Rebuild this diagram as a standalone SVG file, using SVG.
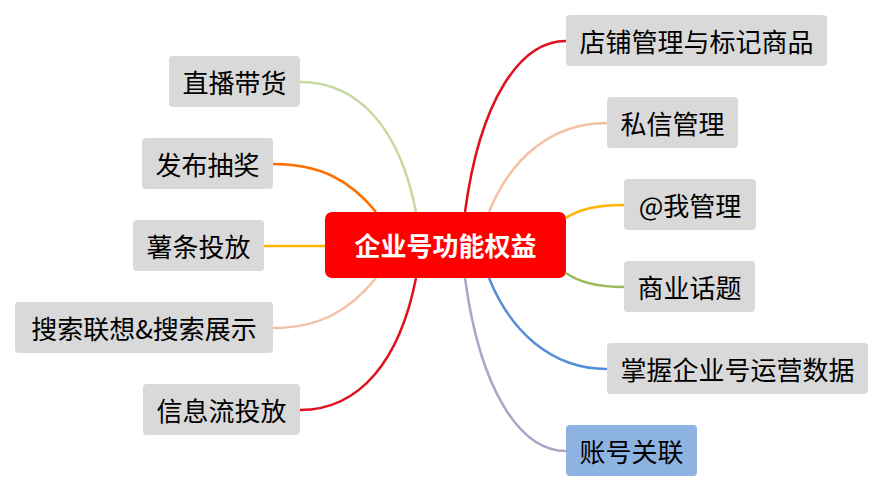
<svg xmlns="http://www.w3.org/2000/svg" width="884" height="492" viewBox="0 0 884 492">
<style>
.n rect{fill:#d9d9d9}
.n text{font-family:"Noto Sans CJK SC","Microsoft YaHei",sans-serif;font-size:26px;fill:#000;text-anchor:middle}
.c path{fill:none;stroke-width:2.5}
</style>
<rect width="884" height="492" fill="#fff"/>
<g id="connectors" class="c">
<path d="M416,212 C400,130 360,82 300,82" stroke="#c6d9a0"/>
<path d="M376,212 C350,180 320,164 273,164" stroke="#ff6f00"/>
<path d="M264,246 L325,246" stroke="#ffb400"/>
<path d="M376,278 C350,310 320,328 273,328" stroke="#f4c1a4"/>
<path d="M416,278 C400,360 360,410 300,410" stroke="#e0101e"/>
<path d="M465,212 C480,100 520,41 566,41" stroke="#e0101e"/>
<path d="M489,212 C510,160 550,123 607,123" stroke="#f4c1a4"/>
<path d="M566,218 C580,208 600,205 624,205" stroke="#ffb400"/>
<path d="M566,273 C580,283 600,287 624,287" stroke="#9bbb59"/>
<path d="M489,278 C510,330 550,369 607,369" stroke="#558ed5"/>
<path d="M465,278 C480,390 520,451 566,451" stroke="#b3a2c7"/>
</g>
<g id="center">
<rect x="325" y="212" width="241" height="66" rx="7" fill="#ff0000"/>
<text x="445.5" y="256" font-family="Noto Sans CJK SC, sans-serif" font-size="26" font-weight="bold" fill="#fff" text-anchor="middle">企业号功能权益</text>
</g>
<g id="n1" class="n"><rect x="169" y="56" width="131" height="51" rx="4"/><text x="234.5" y="92.5">直播带货</text></g>
<g id="n2" class="n"><rect x="142" y="138" width="131" height="51" rx="4"/><text x="207.5" y="174.5">发布抽奖</text></g>
<g id="n3" class="n"><rect x="133" y="220" width="131" height="51" rx="4"/><text x="198.5" y="256.5">薯条投放</text></g>
<g id="n4" class="n"><rect x="15" y="302" width="258" height="51" rx="4"/><text x="144" y="338.5">搜索联想&amp;搜索展示</text></g>
<g id="n5" class="n"><rect x="143" y="384" width="157" height="51" rx="4"/><text x="221.5" y="420.5">信息流投放</text></g>
<g id="n6" class="n"><rect x="566" y="15" width="261" height="51" rx="4"/><text x="696.5" y="51.5">店铺管理与标记商品</text></g>
<g id="n7" class="n"><rect x="607" y="97" width="131" height="51" rx="4"/><text x="672.5" y="133.5">私信管理</text></g>
<g id="n8" class="n"><rect x="624" y="179" width="132" height="51" rx="4"/><text x="690" y="215.5">@我管理</text></g>
<g id="n9" class="n"><rect x="624" y="261" width="131" height="51" rx="4"/><text x="689.5" y="297.5">商业话题</text></g>
<g id="n10" class="n"><rect x="607" y="343" width="261" height="51" rx="4"/><text x="737.5" y="379.5">掌握企业号运营数据</text></g>
<g id="n11" class="n"><rect x="566" y="425" width="131" height="51" rx="4" style="fill:#8db3e2"/><text x="631.5" y="461.5">账号关联</text></g>
</svg>
